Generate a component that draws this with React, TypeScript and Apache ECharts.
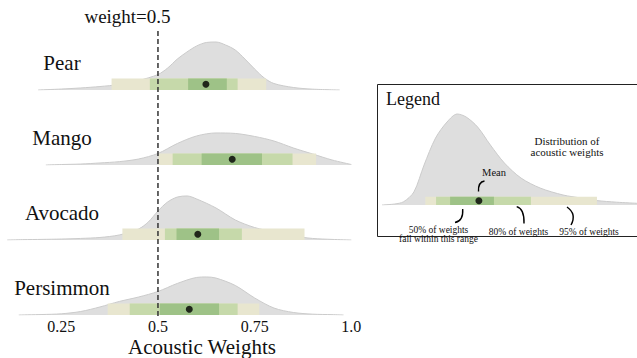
import React, { useEffect, useRef } from 'react';
import * as echarts from 'echarts';

// ---------- data ----------
const categories = ['Pear', 'Mango', 'Avocado', 'Persimmon'];

const pearX = [0.19, 0.25, 0.3, 0.35, 0.4, 0.45, 0.5, 0.525, 0.55, 0.575, 0.6, 0.625, 0.65, 0.675, 0.7, 0.725, 0.75, 0.775, 0.8, 0.85, 0.9, 0.97];
const pearDensity = [0, 0.08, 0.17, 0.29, 0.46, 0.79, 1.29, 1.83, 2.58, 3.17, 3.67, 3.96, 4.0, 3.75, 3.33, 2.58, 1.75, 1.0, 0.54, 0.21, 0.07, 0];

const mangoX = [0.21, 0.25, 0.3, 0.35, 0.4, 0.45, 0.5, 0.55, 0.6, 0.65, 0.7, 0.75, 0.8, 0.85, 0.9, 0.95, 1.0];
const mangoDensity = [0, 0.04, 0.08, 0.17, 0.28, 0.5, 0.96, 1.79, 2.42, 2.67, 2.63, 2.38, 2.0, 1.42, 0.92, 0.42, 0.04];

const avocadoX = [0.11, 0.15, 0.2, 0.25, 0.3, 0.35, 0.4, 0.45, 0.475, 0.5, 0.525, 0.55, 0.575, 0.6, 0.65, 0.7, 0.75, 0.8, 0.85, 0.9, 0.95, 1.0];
const avocadoDensity = [0, 0.03, 0.05, 0.08, 0.13, 0.21, 0.42, 0.92, 1.5, 2.42, 3.17, 3.58, 3.67, 3.42, 2.67, 1.67, 1.04, 0.67, 0.33, 0.13, 0.05, 0];

const persimmonX = [0.14, 0.2, 0.25, 0.3, 0.35, 0.4, 0.45, 0.5, 0.55, 0.6, 0.625, 0.65, 0.7, 0.75, 0.8, 0.85, 0.9, 0.95, 0.98];
const persimmonDensity = [0, 0.04, 0.1, 0.29, 0.67, 1.13, 1.5, 1.96, 2.63, 3.13, 3.17, 3.08, 2.46, 1.42, 0.58, 0.21, 0.07, 0.03, 0];

const interval95 = [[0.38, 0.78], [0.501, 0.909], [0.408, 0.879], [0.37, 0.762]];
const interval80 = [[0.479, 0.706], [0.538, 0.848], [0.518, 0.717], [0.427, 0.706]];
const interval50 = [[0.578, 0.678], [0.613, 0.769], [0.548, 0.658], [0.505, 0.658]];
const means = [0.624, 0.692, 0.603, 0.581];

const thresholdWeight = 0.5;
const xTickValues = [0.25, 0.5, 0.75, 1.0];

// legend example distribution
const legendX = [0, 0.05, 0.085, 0.125, 0.165, 0.21, 0.255, 0.295, 0.33, 0.375, 0.425, 0.48, 0.545, 0.62, 0.71, 0.78, 0.84, 0.92, 1.0];
const legendDensity = [0, 0.01, 0.033, 0.13, 0.4, 0.67, 0.83, 0.91, 0.88, 0.78, 0.6, 0.42, 0.27, 0.17, 0.1, 0.07, 0.045, 0.028, 0.017];
const legend95 = [0.17, 0.843];
const legend80 = [0.212, 0.584];
const legend50 = [0.267, 0.439];
const legendMean = 0.38;

// ---------- style ----------
const FONT = 'Liberation Serif, serif';
const bandColors = ['#e8e6cf', '#c6d9aa', '#9ec287'];
const densityFill = '#dedede';
const densityLine = '#cbcbcb';

const rowXs = [pearX, mangoX, avocadoX, persimmonX];
const rowDs = [pearDensity, mangoDensity, avocadoDensity, persimmonDensity];
const baselines = [90, 165, 240, 315];
const ROW_H = 60;
const PLOT_LEFT = 3.3;
const PLOT_W = 348;

const makeBars = (h: number) => (params: any, api: any) => {
  const a = api.coord([api.value(0), 0]);
  const b = api.coord([api.value(1), 0]);
  return {
    type: 'rect',
    shape: { x: a[0], y: a[1] - h, width: b[0] - a[0], height: h },
    style: { fill: bandColors[api.value(2)] },
  };
};

function buildOption() {
  const grid: any[] = [];
  const xAxis: any[] = [];
  const yAxis: any[] = [];
  const series: any[] = [];

  categories.forEach((name, i) => {
    grid.push({ left: PLOT_LEFT, width: PLOT_W, top: baselines[i] - ROW_H, height: ROW_H });
    const isBottom = i === categories.length - 1;
    xAxis.push({
      gridIndex: i,
      type: 'value',
      min: 0.1,
      max: 1.0,
      interval: 0.05,
      show: isBottom,
      axisLine: { show: false },
      axisTick: { show: false },
      splitLine: { show: false },
      axisLabel: {
        show: isBottom,
        margin: 3,
        fontSize: 16,
        lineHeight: 16,
        fontFamily: FONT,
        color: '#111',
        formatter: (v: number) => {
          const hit = xTickValues.find((t) => Math.abs(t - v) < 1e-6);
          if (hit === undefined) return '';
          return hit === 1 ? '1.0' : String(hit);
        },
      },
    });
    yAxis.push({ gridIndex: i, type: 'value', min: 0, max: 5, show: false });

    series.push({
      type: 'line',
      xAxisIndex: i,
      yAxisIndex: i,
      data: rowXs[i].map((x, k) => [x, rowDs[i][k]]),
      smooth: 0.3,
      symbol: 'none',
      lineStyle: { color: densityLine, width: 1 },
      areaStyle: { color: densityFill, opacity: 1 },
      z: 2,
    });
    series.push({
      type: 'custom',
      xAxisIndex: i,
      yAxisIndex: i,
      clip: false,
      renderItem: makeBars(11.5),
      data: [
        [interval95[i][0], interval95[i][1], 0],
        [interval80[i][0], interval80[i][1], 1],
        [interval50[i][0], interval50[i][1], 2],
      ],
      z: 3,
    });
    series.push({
      type: 'scatter',
      xAxisIndex: i,
      yAxisIndex: i,
      data: [[means[i], 0]],
      symbolSize: 7,
      symbolOffset: [0, -5.75],
      itemStyle: { color: '#000' },
      z: 4,
    });
  });

  // legend grid (index 4)
  grid.push({ left: 382, width: 255, top: 105, height: 100 });
  xAxis.push({ gridIndex: 4, type: 'value', min: 0, max: 1, show: false });
  yAxis.push({ gridIndex: 4, type: 'value', min: 0, max: 1, show: false });
  series.push({
    type: 'line',
    xAxisIndex: 4,
    yAxisIndex: 4,
    data: legendX.map((x, k) => [x, legendDensity[k]]),
    smooth: 0.3,
    symbol: 'none',
    lineStyle: { color: densityLine, width: 1 },
    areaStyle: { color: densityFill, opacity: 1 },
    z: 2,
  });
  series.push({
    type: 'custom',
    xAxisIndex: 4,
    yAxisIndex: 4,
    clip: false,
    renderItem: makeBars(8.3),
    data: [
      [legend95[0], legend95[1], 0],
      [legend80[0], legend80[1], 1],
      [legend50[0], legend50[1], 2],
    ],
    z: 3,
  });
  series.push({
    type: 'scatter',
    xAxisIndex: 4,
    yAxisIndex: 4,
    data: [[legendMean, 0]],
    symbolSize: 7,
    symbolOffset: [0, -4.2],
    itemStyle: { color: '#000' },
    z: 4,
  });

  // overlay grid for threshold line (index 5)
  grid.push({ left: PLOT_LEFT, width: PLOT_W, top: 28, height: 288 });
  xAxis.push({ gridIndex: 5, type: 'value', min: 0.1, max: 1.0, show: false });
  yAxis.push({ gridIndex: 5, type: 'value', min: 0, max: 1, show: false });
  series.push({
    type: 'custom',
    xAxisIndex: 5,
    yAxisIndex: 5,
    clip: false,
    data: [[thresholdWeight, 0]],
    renderItem: (params: any, api: any) => {
      const p0 = api.coord([api.value(0), 0]);
      const p1 = api.coord([api.value(0), 1]);
      return {
        type: 'line',
        shape: { x1: p0[0], y1: p0[1], x2: p1[0], y2: p1[1] },
        style: { stroke: '#333', lineWidth: 1.5, lineDash: [5, 3] },
      };
    },
    z: 6,
  });

  const txt = (text: string, x: number, y: number, size: number, align = 'center') => ({
    type: 'text',
    x,
    y,
    z: 100,
    style: { text, fontSize: size, fontFamily: FONT, fill: '#111', align, verticalAlign: 'middle' },
  });
  const curve = (x1: number, y1: number, cpx1: number, cpy1: number, x2: number, y2: number) => ({
    type: 'bezierCurve',
    z: 100,
    shape: { x1, y1, cpx1, cpy1, x2, y2 },
    style: { stroke: '#000', lineWidth: 1.4, fill: null },
  });

  const graphic: any[] = [
    {
      type: 'rect',
      z: -10,
      shape: { x: 377.5, y: 84.5, width: 280, height: 152 },
      style: { fill: '#fff', stroke: '#222', lineWidth: 1 },
    },
    ...categories.map((c, i) => txt(c, 62, baselines[i] - 27.5, 21)),
    txt('weight=' + thresholdWeight, 127.5, 16, 19),
    txt('Acoustic Weights', 202, 347, 21),
    txt('Legend', 386, 99, 18, 'left'),
    txt('Distribution of', 567, 141, 11),
    txt('acoustic weights', 567, 152, 11),
    txt('Mean', 494, 172, 10.5),
    txt('50% of weights', 438.5, 230, 9.5),
    txt('fall within this range', 438.5, 238.5, 9.5),
    txt('80% of weights', 518.5, 231.5, 9.5),
    txt('95% of weights', 589, 231.5, 9.5),
    curve(484.5, 181, 478, 182, 478.5, 191.5),
    curve(462.7, 209, 463.5, 221, 455, 222.5),
    curve(516.7, 206.7, 524.5, 209, 524, 223.5),
    curve(567, 207, 577, 214, 571, 225),
  ];

  return {
    animation: false,
    backgroundColor: '#fff',
    textStyle: { fontFamily: FONT },
    grid,
    xAxis,
    yAxis,
    series,
    graphic,
  };
}

export default function App() {
  const ref = useRef<HTMLDivElement>(null);
  useEffect(() => {
    if (!ref.current) return;
    const chart = echarts.init(ref.current, null, { renderer: 'svg' });
    chart.setOption(buildOption() as any);
    return () => chart.dispose();
  }, []);
  return <div ref={ref} style={{ position: 'absolute', left: 0, top: 0, width: 637, height: 358 }} />;
}
